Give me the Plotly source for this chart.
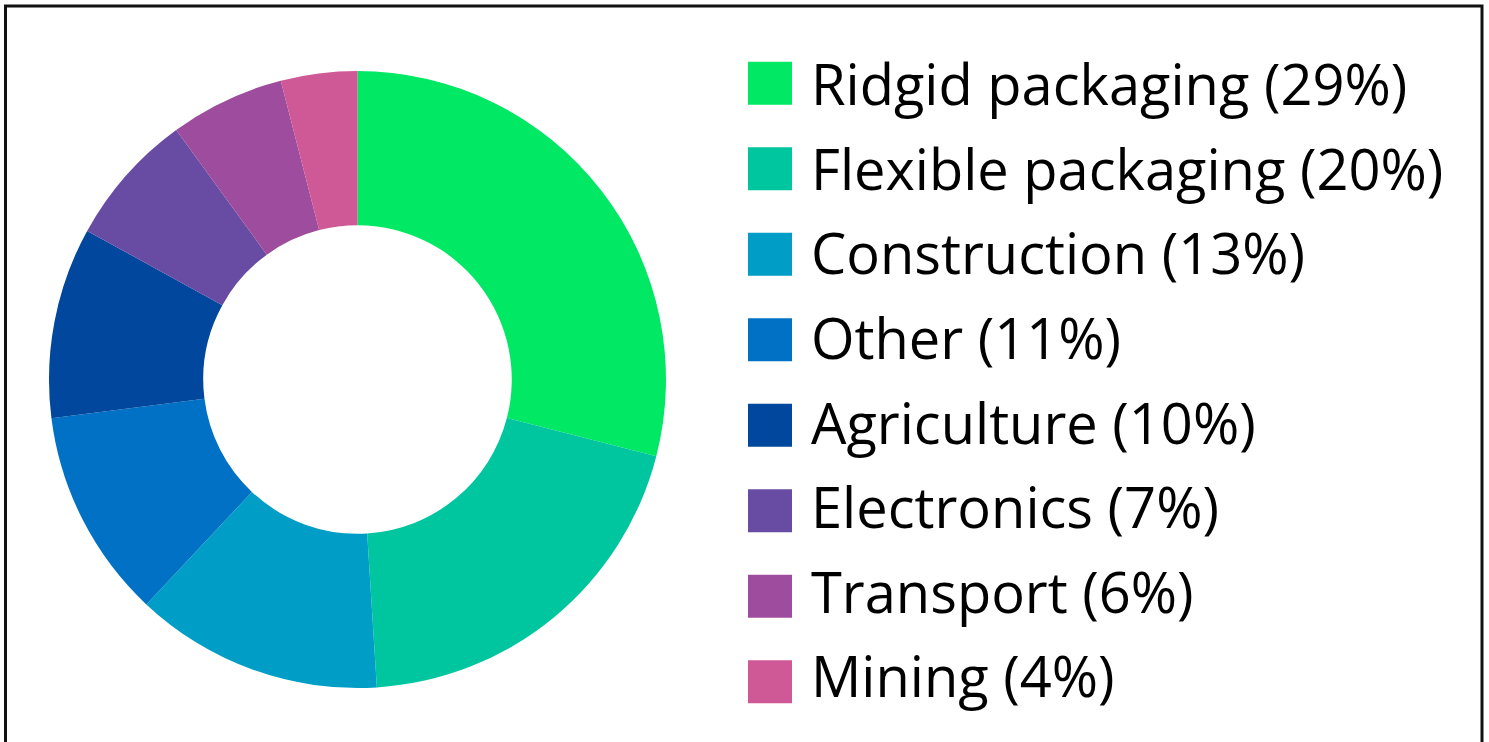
import plotly.graph_objects as go

categories = ["Ridgid packaging", "Flexible packaging", "Construction", "Other",
              "Agriculture", "Electronics", "Transport", "Mining"]
shares = [29, 20, 13, 11, 10, 7, 6, 4]
colors = ["#00E864", "#00C69F", "#009EC6", "#0071C5",
          "#00479D", "#684CA4", "#9E4C9E", "#CF5896"]

W, H = 1489, 742
labels = [f"{c} ({v}%)" for c, v in zip(categories, shares)]

fig = go.Figure()
fig.add_trace(go.Pie(
    labels=labels, values=shares, sort=False, direction="clockwise", rotation=0,
    hole=0.5, textinfo="none", hoverinfo="label",
    marker=dict(colors=colors, line=dict(width=0)),
    domain=dict(x=[49 / W, 666 / W], y=[1 - 688 / H, 1 - 71 / H]),
    showlegend=False,
))

# manual legend with large swatches
shapes = []
annotations = []
sq = 43
x0 = 748
sq_first, sq_step = 83.3, 85.5
tx_first, tx_step = 83.3, 84.6
for i, (lab, col) in enumerate(zip(labels, colors)):
    cy = sq_first + i * sq_step
    ty = tx_first + i * tx_step
    shapes.append(dict(type="rect", xref="paper", yref="paper",
                       x0=x0 / W, x1=(x0 + 44) / W,
                       y0=1 - (cy + sq / 2) / H, y1=1 - (cy - sq / 2) / H,
                       fillcolor=col, line=dict(width=0)))
    annotations.append(dict(xref="paper", yref="paper", x=809 / W, y=1 - ty / H,
                            text=lab, showarrow=False, xanchor="left", yanchor="middle",
                            font=dict(family="Open Sans", size=56, color="#000000")))

# outer frame
shapes.append(dict(type="rect", xref="paper", yref="paper",
                   x0=5.5 / W, x1=1482 / W, y0=-0.05, y1=1 - 6 / H,
                   line=dict(color="#111111", width=3), fillcolor="rgba(0,0,0,0)"))

fig.update_layout(
    width=W, height=H, margin=dict(l=0, r=0, t=0, b=0),
    paper_bgcolor="white", plot_bgcolor="white",
    shapes=shapes, annotations=annotations,
)

fig.write_html("out.html")
